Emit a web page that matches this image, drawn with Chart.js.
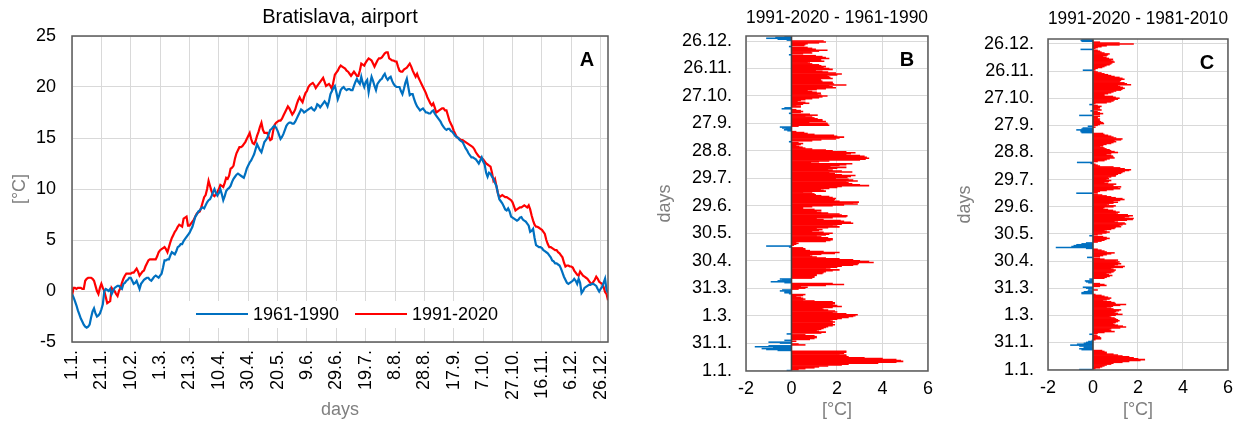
<!DOCTYPE html>
<html>
<head>
<meta charset="utf-8">
<script src="https://cdn.jsdelivr.net/npm/chart.js@4/dist/chart.umd.min.js"></script>
<style>
html,body{margin:0;padding:0;background:#fff;}
#wrap{position:relative;width:1240px;height:421px;overflow:hidden;background:#fff;}
.pane{position:absolute;top:0;}
</style>
</head>
<body>
<div id="wrap">
  <div class="pane" style="left:0"><canvas id="cA" width="640" height="421"></canvas></div>
  <div class="pane" style="left:640px"><canvas id="cB" width="300" height="421"></canvas></div>
  <div class="pane" style="left:940px"><canvas id="cC" width="300" height="421"></canvas></div>
</div>
<script>
// ---------- data ----------
const tickLabelsA = ['1.1.','21.1.','10.2.','1.3.','21.3.','10.4.','30.4.','20.5.','9.6.','29.6.','19.7.','8.8.','28.8.','17.9.','7.10.','27.10.','16.11.','6.12.','26.12.'];
const tickLabelsBC = ['1.1.','31.1.','1.3.','31.3.','30.4.','30.5.','29.6.','29.7.','28.8.','27.9.','27.10.','26.11.','26.12.'];
const seriesNames = ['1961-1990','1991-2020'];

// daily mean temperature 1961-1990 (day 1..366)
const temp1961 = [
-0.3,-0.6,-1.0,-1.4,-1.9,-2.3,-2.7,-3.0,-3.3,-3.5,
-3.6,-3.5,-3.3,-2.6,-2.0,-1.7,-2.2,-2.5,-2.4,-2.2,
-1.8,-1.3,0.0,0.2,0.1,0.0,0.2,-0.3,0.0,0.3,
0.4,0.5,0.5,0.3,0.2,0.7,0.8,1.0,1.1,1.3,
1.3,1.0,0.7,0.8,1.0,0.6,0.2,0.7,0.9,1.1,
1.2,1.3,1.3,1.1,1.0,1.2,1.4,1.5,1.4,1.3,
1.5,1.7,2.3,3.0,3.0,3.1,3.1,3.5,3.8,3.7,
3.6,3.9,4.3,4.4,4.6,4.6,4.9,5.1,5.3,5.5,
5.7,6.0,6.3,6.8,7.3,7.5,7.8,7.9,8.1,8.2,
8.1,8.4,8.7,8.9,9.0,9.3,9.7,10.0,9.6,9.35,
9.6,10.0,9.5,8.9,9.3,9.8,10.0,10.1,10.3,10.7,
11.0,11.2,11.4,11.5,11.4,11.3,11.2,11.1,11.5,12.0,
12.3,12.6,12.8,13.1,13.4,13.9,14.4,14.1,13.8,13.6,
14.1,14.6,14.8,15.0,15.4,15.8,15.9,16.1,16.2,16.0,
15.7,15.3,14.9,15.1,15.4,15.8,16.2,16.4,16.5,16.5,
16.4,16.4,16.6,16.9,17.2,17.5,17.8,17.7,17.5,17.6,
17.7,17.8,17.9,18.0,17.8,17.7,17.9,18.3,18.2,18.0,
18.2,18.4,18.6,18.4,18.1,18.6,19.3,19.6,19.9,20.1,
19.5,18.8,19.2,19.7,19.9,20.0,19.8,19.7,19.8,19.8,
19.7,19.7,20.1,20.5,20.8,20.5,20.3,21.0,20.4,20.0,
20.5,20.7,19.5,20.3,21.0,20.6,20.1,19.7,20.3,20.5,
20.7,20.8,21.1,21.3,20.9,20.7,20.9,21.0,20.6,20.3,
20.1,20.0,20.0,20.0,19.6,19.3,19.8,20.4,20.8,20.0,
19.2,19.3,19.3,18.8,18.4,18.1,17.9,17.7,17.8,17.9,
17.7,17.5,17.5,17.4,17.4,17.6,17.7,17.4,17.2,17.0,
16.8,16.6,16.3,16.1,15.9,15.8,15.9,15.9,15.7,15.6,
15.4,15.2,15.1,15.0,14.8,14.7,14.6,14.3,14.0,13.8,
13.5,13.3,13.1,13.1,13.0,12.9,12.7,12.5,12.8,13.1,
12.7,12.4,11.6,11.2,11.6,11.5,11.2,11.0,10.6,10.3,
9.6,9.0,8.8,8.6,8.3,8.0,7.9,8.1,7.8,7.3,
7.2,7.1,7.0,6.9,7.0,7.2,7.25,7.0,6.9,6.8,
6.6,6.4,5.8,5.9,6.1,5.2,4.5,4.4,4.3,4.3,
4.2,4.0,3.9,3.8,3.7,3.5,3.3,3.0,2.9,2.7,
2.7,2.6,2.5,2.2,1.8,1.4,1.1,0.8,0.7,0.8,
0.9,1.0,1.2,1.0,0.7,1.2,0.8,-0.2,0.0,0.3,
0.4,0.5,0.6,0.6,0.7,0.7,0.6,0.5,0.2,-0.05,
0.2,0.4,0.8,1.2,0.1,-0.2
];

// daily mean temperature 1991-2020
const temp1991 = [
-0.5,0.3,0.3,0.2,0.3,0.3,0.3,0.2,0.2,1.0,
1.2,1.3,1.3,1.3,1.2,1.0,0.5,0.0,-0.3,0.3,
0.7,0.3,0.0,-0.6,-1.2,-1.1,-1.0,0.3,0.1,0.0,
-0.3,-0.5,0.0,0.3,0.8,1.2,1.5,1.7,1.7,1.7,
1.7,1.8,1.8,2.0,2.2,1.9,1.5,1.7,1.9,2.0,
2.4,2.7,3.0,3.1,3.1,3.1,3.1,3.1,3.4,3.8,
4.0,4.1,4.2,4.3,4.1,3.8,4.3,4.8,5.2,5.5,
5.8,6.0,6.3,6.5,6.4,6.3,7.1,7.2,7.3,6.4,
6.4,6.6,6.8,7.0,7.3,7.6,7.7,7.8,8.2,8.7,
9.2,9.4,10.0,10.8,10.3,9.8,9.4,9.3,9.5,9.7,
10.0,10.4,10.3,10.2,10.6,11.1,11.0,11.3,12.0,12.1,
12.3,13.0,13.5,13.8,14.1,14.1,14.2,14.4,14.6,14.9,
15.2,15.5,14.9,14.5,14.4,14.7,15.2,15.6,16.1,16.5,
15.8,15.5,15.5,15.5,15.1,14.8,14.9,15.7,16.3,16.5,
16.6,16.7,16.7,16.9,17.2,17.5,17.8,18.1,17.9,17.6,
17.3,17.5,17.8,18.3,18.7,19.0,18.7,18.5,19.0,19.4,
19.6,20.0,20.2,20.3,20.4,20.2,19.9,20.1,20.3,20.5,
20.7,20.9,20.5,20.1,20.2,20.3,20.1,19.8,20.5,21.2,
21.4,21.6,21.9,22.1,22.0,21.9,21.8,21.6,21.5,21.3,
21.1,21.3,21.5,21.3,21.1,21.1,21.6,22.3,22.2,22.1,
22.4,22.6,22.8,22.7,22.6,22.3,22.0,22.3,22.6,22.8,
22.8,22.9,23.1,23.3,23.4,23.4,22.8,22.7,22.6,22.6,
22.5,22.5,22.0,21.6,21.5,21.5,21.7,21.8,21.9,22.1,
22.3,22.0,21.6,21.3,21.0,21.3,20.9,20.6,20.3,20.0,
19.7,19.4,19.0,18.7,18.4,18.2,18.4,18.0,17.5,17.6,
17.7,17.8,17.9,17.9,17.7,17.7,17.2,16.7,16.4,16.1,
15.7,15.4,15.1,15.0,14.9,14.8,14.8,14.7,14.6,14.5,
14.4,14.3,14.2,14.1,13.9,13.6,13.4,13.2,13.1,13.0,
12.9,12.7,12.5,12.4,12.3,12.2,11.6,10.8,11.0,10.3,
9.6,9.2,9.3,9.4,9.3,9.2,9.2,9.1,9.0,8.9,
8.7,8.3,7.9,8.0,8.1,8.2,8.2,8.3,8.4,8.3,
8.2,8.4,8.0,7.4,6.9,6.5,6.3,6.3,6.2,6.1,
6.0,5.8,5.6,5.0,4.6,4.3,4.3,4.2,4.1,4.0,
4.0,3.8,3.7,3.5,3.3,2.8,2.4,2.5,2.5,2.4,
2.4,2.3,2.0,1.8,1.6,1.5,1.9,1.7,1.5,1.4,
1.3,1.2,1.0,0.8,0.7,0.9,1.1,1.4,1.2,0.9,
0.8,0.7,0.4,-0.1,-0.3,-0.9
];

// difference 1991-2020 minus 1961-1990
const diffB = [
-0.2,0.3,0.6,1.0,1.2,1.6,2.2,2.5,3.8,4.6,
4.9,4.8,4.6,4.0,3.2,2.5,2.4,2.4,2.1,2.3,
2.4,2.4,-0.6,-1.1,-1.3,-0.8,-1.6,-1.0,0.6,0.3,
-0.5,-1.0,0.2,-0.3,0.8,1.0,1.1,1.1,1.0,0.6,
-0.2,1.3,1.5,1.2,1.1,1.3,1.4,1.5,1.6,1.8,
1.9,1.8,1.8,1.9,1.8,1.7,2.0,2.2,2.5,2.7,
2.8,2.9,2.4,1.8,2.0,1.9,1.6,1.4,1.35,1.8,
2.2,2.0,1.8,1.9,1.9,1.8,1.0,0.5,0.6,0.5,
0.4,0.2,0.5,0.6,-0.1,-0.3,-0.3,-0.5,-0.4,0.3,
0.6,0.7,0.4,1.5,2.3,1.8,-0.3,-0.9,-0.6,-0.4,
-0.5,0.9,1.0,1.0,1.1,1.1,1.35,1.4,1.5,1.8,
2.1,1.7,1.5,2.0,2.2,2.7,2.9,2.95,3.6,3.4,
3.0,2.7,2.1,1.5,1.1,0.9,0.8,1.3,1.9,2.1,
1.4,0.8,0.6,0.6,0.5,-0.1,-1.1,0.1,0.2,0.3,
0.2,1.5,1.7,1.8,1.8,1.6,1.3,1.1,1.5,1.65,
1.8,1.4,0.9,1.2,1.35,1.1,1.6,2.1,1.8,2.0,
2.2,2.7,2.6,2.3,2.15,1.4,1.1,1.8,2.4,2.45,
2.2,2.1,1.6,1.3,1.1,1.3,1.0,0.5,0.5,0.9,
1.8,2.3,2.9,2.7,2.95,2.1,1.86,1.9,1.94,1.8,
1.65,1.3,1.06,1.0,0.9,0.5,1.5,1.4,1.28,1.65,
2.0,2.2,3.4,3.0,2.66,2.5,2.4,2.9,2.7,2.5,
1.94,2.45,2.6,2.8,2.2,1.9,1.65,2.66,2.2,1.8,
1.6,2.0,2.4,1.7,2.1,2.4,2.66,0.85,1.2,1.65,
3.0,3.25,3.4,3.3,3.2,3.0,2.4,2.6,2.8,2.4,
1.8,1.5,0.9,0.6,0.48,0.33,0.2,0.4,0.5,0.3,
-0.1,0.9,1.3,1.94,2.1,2.3,2.0,1.86,1.0,0.7,
0.55,0.2,-0.17,-0.32,-0.25,-0.4,-0.5,0.3,1.65,1.6,
1.57,0.77,1.5,1.35,1.35,1.14,1.0,0.9,0.6,1.14,
0.8,-0.1,0.4,0.5,0.4,0.2,-0.42,-0.3,0.4,0.4,
0.2,0.5,0.77,0.6,0.26,0.4,0.6,0.9,1.2,1.35,
1.57,1.3,1.14,1.28,1.1,0.9,0.7,1.1,1.5,1.94,
1.8,1.65,2.4,1.86,1.8,1.8,1.35,1.3,1.28,1.8,
1.7,1.65,1.57,2.0,2.2,1.94,1.6,1.35,1.06,1.8,
1.65,1.4,1.5,1.3,1.2,0.9,0.8,0.7,1.43,1.3,
1.28,1.65,1.5,1.35,1.06,-0.1,0.5,0.9,0.85,1.2,
1.57,1.06,0.9,0.7,-0.1,0.55,0.6,0.7,1.2,1.5,
1.4,-0.2,-0.6,-1.1,-0.7,-0.3
];

// difference 1991-2020 minus 1981-2010
const diffC = [
-0.6,0.1,0.3,0.4,0.5,0.6,0.8,0.9,1.3,1.6,
2.1,2.3,2.0,1.8,1.6,1.3,1.1,0.9,0.6,0.6,
0.5,0.4,-0.5,-0.6,-0.4,-0.4,-0.6,-1.0,-0.7,-0.4,
-0.3,-0.2,-0.05,0.1,0.35,0.35,0.3,0.2,0.15,-0.15,
0.2,0.5,0.95,0.8,0.73,0.8,1.2,1.46,1.32,1.1,
0.95,0.88,1.0,1.1,1.17,1.1,1.02,0.95,0.8,0.73,
1.0,1.3,1.1,0.95,1.02,1.15,1.24,0.9,0.8,0.6,
0.88,1.2,1.46,1.0,0.95,0.8,0.44,0.6,0.73,0.8,
0.66,0.5,0.37,0.1,-0.5,-0.5,-0.4,-0.22,0.2,-0.2,
-0.3,-0.44,0.3,0.59,0.5,0.3,-0.2,-0.3,-0.35,-0.1,
-0.15,0.5,0.6,0.73,0.85,0.7,0.59,0.8,0.9,0.95,
1.0,0.9,0.8,1.32,1.4,0.95,1.1,1.24,1.1,1.17,
1.0,1.1,0.5,0.3,-0.25,0.3,0.44,0.6,0.8,0.95,
0.6,0.5,0.37,0.2,-0.3,-1.64,-0.95,-0.85,-0.73,-0.5,
-0.3,0.2,0.37,0.5,0.59,0.73,0.6,0.44,-0.15,0.2,
0.4,0.59,0.73,0.6,0.5,0.8,0.95,1.0,1.24,1.17,
1.3,1.46,1.4,1.1,0.95,1.5,1.76,1.8,1.4,1.6,
1.76,1.54,1.1,1.02,1.17,1.0,0.88,0.66,0.44,0.5,
0.9,1.0,0.6,0.7,0.9,1.1,0.9,1.2,1.39,1.3,
1.0,0.8,0.6,0.4,0.2,-0.73,0.2,0.3,0.6,0.9,
1.2,1.1,1.24,0.9,0.88,1.02,0.66,0.5,0.7,0.8,
0.59,0.7,0.66,0.8,1.0,1.02,1.1,1.24,1.3,1.4,
1.6,1.68,1.4,1.2,0.9,0.3,0.2,0.1,-0.1,-0.7,
0.2,0.5,0.6,0.73,0.95,0.9,0.88,0.8,0.59,0.8,
1.1,0.95,0.8,0.73,0.59,0.5,0.44,0.3,0.45,0.59,
0.8,0.9,1.02,0.95,1.24,1.3,1.02,0.9,0.8,0.66,
0.5,0.44,-0.5,-0.54,-0.55,-0.73,-0.5,-0.45,0.1,-0.22,
0.2,0.3,0.48,0.44,0.35,0.3,0.25,0.3,0.2,0.2,
0.3,-0.6,0.3,0.44,0.3,0.2,-0.1,0.37,0.3,0.22,
0.3,0.37,0.2,-0.15,0.1,0.6,0.8,0.9,0.95,1.1,
1.17,1.0,0.88,0.5,0.5,0.66,0.8,0.9,1.02,1.24,
1.3,1.4,1.32,1.2,1.1,1.68,1.5,1.39,1.17,1.2,
1.24,1.39,1.3,1.17,0.95,0.8,0.66,0.5,0.37,0.2,
0.1,-0.44,0.1,0.2,0.4,0.5,0.59,0.73,0.8,0.85,
0.95,0.9,0.8,0.88,0.7,0.59,0.44,0.6,0.66,0.73,
0.5,0.37,0.3,0.2,-0.54,0.1,0.2,0.37,0.6,1.17,
1.8,1.17,0.3,-0.5,-0.54,-0.5
];

// ---------- styling ----------
const FONT = "'Liberation Sans', Arial, Helvetica, sans-serif";
Chart.defaults.font.family = FONT;
Chart.defaults.color = '#000';
const GRID = '#D9D9D9';
const FRAME = '#595959';
const AXIS_TITLE = '#808080';
const BLUE = '#0070C0';
const RED = '#FF0000';

const dayIndex = temp1961.map((_, i) => i);
const tickPosA = tickLabelsA.map((_, i) => i * 20);
const tickPosBC = tickLabelsBC.map((_, i) => i * 30);

const framePlugin = {
  id: 'frame',
  afterDatasetsDraw(chart, args, opts) {
    const ctx = chart.ctx, a = chart.chartArea;
    ctx.save();
    if (opts.zero) {
      const x = chart.scales.x.getPixelForValue(0);
      ctx.strokeStyle = '#404040';
      ctx.lineWidth = 1.6;
      ctx.beginPath(); ctx.moveTo(x, a.top); ctx.lineTo(x, a.bottom); ctx.stroke();
    }
    ctx.strokeStyle = FRAME;
    ctx.lineWidth = 1.5;
    ctx.strokeRect(a.left, a.top, a.right - a.left, a.bottom - a.top);
    if (opts.letter) {
      ctx.fillStyle = '#000';
      ctx.font = 'bold 20px ' + FONT;
      ctx.textAlign = 'center';
      ctx.textBaseline = 'middle';
      ctx.fillText(opts.letter, a.right - 21, a.top + 24);
    }
    ctx.restore();
  }
};

const legendPlugin = {
  id: 'boxLegend',
  afterDraw(chart, args, opts) {
    if (!opts.show) return;
    const ctx = chart.ctx;
    const ds = chart.data.datasets;
    ctx.save();
    ctx.fillStyle = '#fff';
    ctx.fillRect(188, 301, 324, 27);
    const y = 314;
    const items = [{x: 196, ds: ds[0]}, {x: 355, ds: ds[1]}];
    ctx.font = '18px ' + FONT;
    ctx.textBaseline = 'middle';
    ctx.textAlign = 'left';
    items.forEach(it => {
      ctx.strokeStyle = it.ds.borderColor;
      ctx.lineWidth = 2.2;
      ctx.beginPath(); ctx.moveTo(it.x, y); ctx.lineTo(it.x + 52, y); ctx.stroke();
      ctx.fillStyle = '#000';
      ctx.fillText(it.ds.label, it.x + 57, y + 1);
    });
    ctx.restore();
  }
};

// ---------- panel A ----------
new Chart(document.getElementById('cA'), {
  type: 'line',
  data: {
    datasets: [
      {label: seriesNames[0], data: temp1961.map((v, i) => ({x: dayIndex[i], y: v})), borderColor: BLUE, borderWidth: 2.2, pointRadius: 0, tension: 0, fill: false},
      {label: seriesNames[1], data: temp1991.map((v, i) => ({x: dayIndex[i], y: v})), borderColor: RED, borderWidth: 2.2, pointRadius: 0, tension: 0, fill: false}
    ]
  },
  options: {
    responsive: false, animation: false, devicePixelRatio: 1,
    layout: {padding: {left: 0, right: 32, top: 0, bottom: 0}},
    plugins: {
      legend: {display: false},
      tooltip: {enabled: false},
      title: {display: true, text: 'Bratislava, airport', fullSize: false, color: '#000',
              font: {size: 20, weight: 'normal'}, padding: {top: 5, bottom: 7}},
      frame: {letter: 'A'},
      boxLegend: {show: true}
    },
    scales: {
      x: {
        type: 'linear', min: 0, max: 365,
        afterBuildTicks: s => { s.ticks = tickPosA.map(v => ({value: v})); },
        afterFit: s => { s.height = 79; },
        ticks: {autoSkip: false, maxRotation: 90, minRotation: 90, padding: 8, color: '#000',
                font: {size: 18}, callback: v => tickLabelsA[Math.round(v / 20)]},
        grid: {color: GRID, lineWidth: 1, drawTicks: false},
        border: {display: false},
        title: {display: true, text: 'days', color: AXIS_TITLE, font: {size: 18}, padding: {top: 0, bottom: 0}}
      },
      y: {
        min: -5, max: 25,
        afterFit: s => { s.width = 72; },
        ticks: {stepSize: 5, padding: 16, color: '#000', font: {size: 18}},
        grid: {color: GRID, lineWidth: 1, drawTicks: false},
        border: {display: false},
        title: {display: true, text: '[°C]', color: AXIS_TITLE, font: {size: 18}, padding: {top: 9, bottom: 0}}
      }
    }
  },
  plugins: [framePlugin, legendPlugin]
});

// ---------- panels B and C ----------
function diffChart(id, values, titleText, yWidth, rightPad, xHeight, titlePad, letter) {
  return new Chart(document.getElementById(id), {
    type: 'bar',
    data: {
      labels: dayIndex,
      datasets: [{
        data: values,
        backgroundColor: c => (c.raw >= 0 ? RED : BLUE),
        borderWidth: 0,
        barPercentage: 1,
        categoryPercentage: 1
      }]
    },
    options: {
      indexAxis: 'y',
      responsive: false, animation: false, devicePixelRatio: 1,
      layout: {padding: {left: 0, right: rightPad, top: 0, bottom: 0}},
      plugins: {
        legend: {display: false},
        tooltip: {enabled: false},
        title: {display: true, text: titleText, fullSize: false, color: '#000',
                font: {size: 18, weight: 'normal'}, padding: titlePad},
        frame: {zero: true, letter: letter}
      },
      scales: {
        x: {
          type: 'linear', min: -2, max: 6,
          afterFit: s => { s.height = xHeight; },
          ticks: {stepSize: 2, padding: 7, color: '#000', font: {size: 18}},
          grid: {color: GRID, lineWidth: 1, drawTicks: false},
          border: {display: false},
          title: {display: true, text: '[°C]', color: AXIS_TITLE, font: {size: 18}, padding: {top: 0, bottom: 0}}
        },
        y: {
          type: 'category', reverse: true, offset: true,
          afterBuildTicks: s => { s.ticks = s.ticks.filter(t => tickPosBC.includes(t.value)); },
          afterFit: s => { s.width = yWidth; },
          ticks: {autoSkip: false, padding: 14, color: '#000', font: {size: 18},
                  callback: v => tickLabelsBC[Math.round(v / 30)]},
          grid: {color: GRID, lineWidth: 1, drawTicks: false, offset: false},
          border: {display: false},
          title: {display: true, text: 'days', color: AXIS_TITLE, font: {size: 18}, padding: {top: 14, bottom: 0}}
        }
      }
    },
    plugins: [framePlugin]
  });
}

diffChart('cB', diffB, '1991-2020 - 1961-1990', 106, 12, 50, {top: 7, bottom: 7.4}, 'B');
diffChart('cC', diffC, '1991-2020 - 1981-2010', 108, 8, 51, {top: 8, bottom: 9.4}, 'C');
</script>
</body>
</html>
